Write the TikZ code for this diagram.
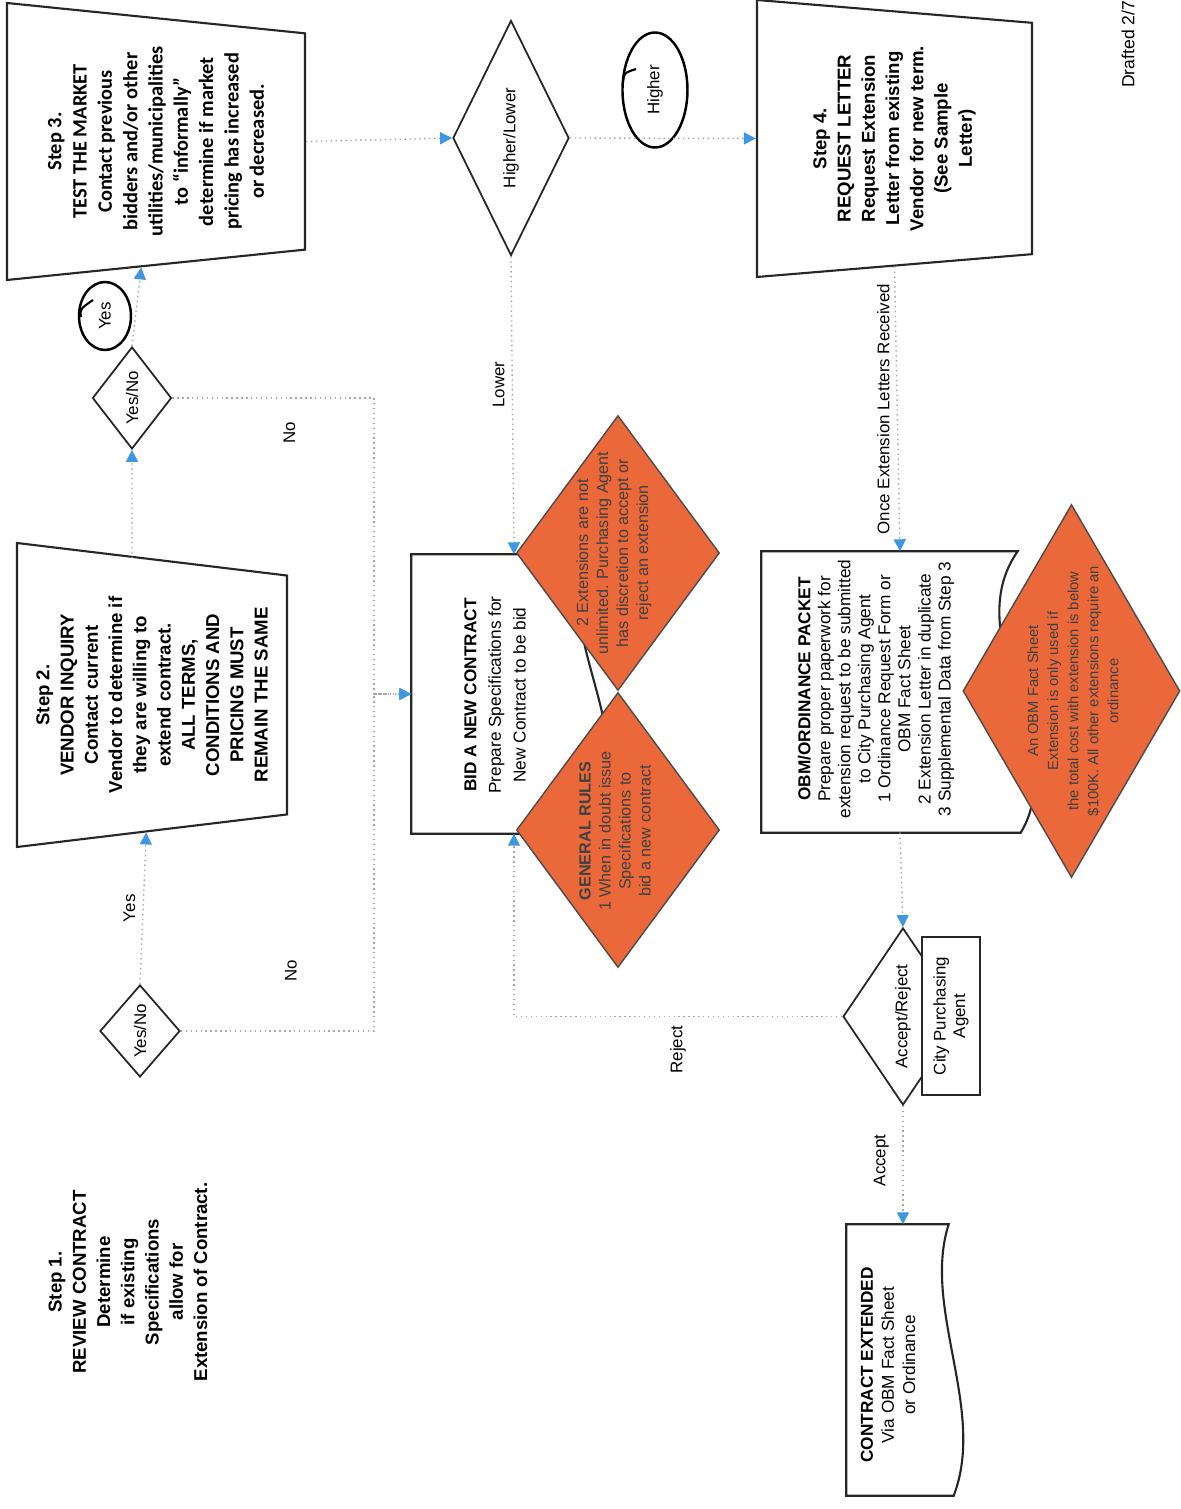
\documentclass[tikz,border=0pt]{standalone}
\usepackage{fontspec}
\setmainfont{Liberation Sans}
\newfontfamily\carlito{Carlito}
\usetikzlibrary{shapes.geometric}
\usetikzlibrary{arrows.meta}
\usetikzlibrary{calc}
\definecolor{arrowblue}{RGB}{64,150,224}
\definecolor{ruleorange}{RGB}{234,104,58}

\begin{document}
\begin{tikzpicture}[rotate=90, transform shape]
\tikzstyle{stepbox} = [trapezium, trapezium angle=82, trapezium stretches body, shape border rotate=180, draw=black!85, line width=0.6pt, fill=white, align=center, inner sep=0pt, font=\fontsize{5.3}{6.9}\selectfont\bfseries]
\tikzstyle{decision} = [diamond, draw=black!85, line width=0.5pt, fill=white, inner sep=0pt, font=\fontsize{4.8}{5.6}\selectfont]
\tikzstyle{doc} = [rectangle, inner sep=0pt]
\tikzstyle{docline} = [draw=black!85, line width=0.6pt, fill=white]
\tikzstyle{doctext} = [align=center, inner sep=0pt, font=\fontsize{4.9}{5.7}\selectfont]
\tikzstyle{note} = [diamond, draw=black!70, line width=0.4pt, fill=ruleorange, inner sep=0pt]
\tikzstyle{notetext} = [align=center, inner sep=0pt, text=black!75, font=\fontsize{4.6}{5.7}\selectfont]
\tikzstyle{tag} = [inner sep=1pt, font=\fontsize{4.8}{5.6}\selectfont]
\tikzstyle{handmark} = [ellipse, draw, line width=0.7pt, inner sep=0pt, font=\fontsize{4.8}{5.6}\selectfont]
\tikzstyle{flow} = [draw=black!35, densely dotted, line width=0.4pt, -{Triangle[length=1.2mm,width=1.2mm,color=arrowblue]}]

\useasboundingbox (0,0) rectangle (15.09,11.81);
\fill[white] (0,0) rectangle (15.09,11.81);

% steps
\node[font=\fontsize{5.3}{6.9}\selectfont\bfseries, align=center] (step1) at (2.27,10.53) {Step 1.\\REVIEW CONTRACT\\Determine\\if existing\\Specifications\\allow for\\Extension of Contract.};
\node[stepbox, minimum width=3.04cm, minimum height=2.7cm] (step2) at (8.14,10.29) {Step 2.\\VENDOR INQUIRY\\Contact current\\Vendor to determine if\\they are willing to\\extend contract.\\ALL TERMS,\\CONDITIONS AND\\PRICING MUST\\REMAIN THE SAME};
\node[stepbox, minimum width=2.77cm, minimum height=2.98cm, font=\carlito\fontsize{5.8}{7.2}\selectfont\bfseries] (step3) at (13.675,10.25) {Step 3.\\TEST THE MARKET\\Contact previous\\bidders and/or other\\utilities/municipalities\\to “informally”\\determine if market\\pricing has increased\\or decreased.};
\node[stepbox, minimum width=2.77cm, minimum height=2.75cm] (step4) at (13.705,2.865) {Step 4.\\REQUEST LETTER\\Request Extension\\Letter from existing\\Vendor for new term.\\(See Sample\\Letter)};

% decisions
\node[decision, minimum width=0.92cm, minimum height=0.8cm] (yesno1) at (4.78,10.41) {Yes/No};
\node[decision, minimum width=1.02cm, minimum height=0.79cm] (yesno2) at (11.11,10.49) {Yes/No};
\node[decision, minimum width=2.35cm, minimum height=0.78cm] (higherlower) at (13.71,6.70) {Higher/Lower};
\node[decision, minimum width=1.77cm, minimum height=0.78cm] (acceptreject) at (4.925,2.78) {Accept/Reject};
\node[draw=black!85, line width=0.5pt, fill=white, minimum width=1.58cm, minimum height=0.58cm, align=center, inner sep=0pt, font=\fontsize{4.8}{5.6}\selectfont] (agent) at (4.93,2.30) {City Purchasing\\Agent};

% documents
\node[doc, minimum width=2.78cm, minimum height=2.04cm] (bid) at (8.15,6.67) {};
\draw[docline] (bid.north west) -- (bid.north east) -- ($(bid.south east)+(0,0.3)$) .. controls ($(bid.south east)+(-0.85,0.65)$) and ($(bid.south west)+(1.05,-0.25)$) .. ($(bid.south west)+(0,0.2)$) -- cycle;
\node[doctext, font=\fontsize{4.9}{7}\selectfont] (bidtext) at (8.14,6.86) {\textbf{BID A NEW CONTRACT}\\Prepare Specifications for\\New Contract to be bid};

\node[doc, minimum width=2.8cm, minimum height=2.76cm] (obm) at (8.17,2.81) {};
\draw[docline] (obm.north west) -- (obm.north east) -- ($(obm.south east)+(0,0.21)$) .. controls ($(obm.south east)+(-0.87,0.82)$) and ($(obm.south west)+(0.83,-0.33)$) .. ($(obm.south west)+(0,0.18)$) -- cycle;
\node[doctext] (obmtext) at (8.2,3.05) {\textbf{OBM/ORDINANCE PACKET}\\Prepare proper paperwork for\\extension request to be submitted\\to City Purchasing Agent\\1 Ordinance Request Form or\\OBM Fact Sheet\\2 Extension Letter in duplicate\\3 Supplemental Data from Step 3};

\node[doc, minimum width=2.7cm, minimum height=1.12cm] (extended) at (1.49,2.78) {};
\draw[docline] (extended.north west) -- (extended.north east) -- ($(extended.south east)+(0,0.11)$) .. controls ($(extended.south east)+(-0.84,0.38)$) and ($(extended.south west)+(0.86,-0.27)$) .. ($(extended.south west)+(0,0.06)$) -- cycle;
\node[doctext, font=\fontsize{4.9}{6}\selectfont] (extendedtext) at (1.44,2.93) {\textbf{CONTRACT EXTENDED}\\Via OBM Fact Sheet\\or Ordinance};

% orange notes
\node[note, minimum width=2.75cm, minimum height=2.03cm] (rules) at (6.79,5.63) {};
\node[note, minimum width=2.75cm, minimum height=2.03cm] (limits) at (9.56,5.63) {};
\node[note, minimum width=3.73cm, minimum height=2.17cm] (factsheet) at (8.18,1.095) {};
\node[notetext] (rulestext) at (6.78,5.66) {\textbf{GENERAL RULES}\\1 When in doubt issue\\Specifications to\\bid a new contract};
\node[notetext] (limitstext) at (9.56,5.67) {2 Extensions are not\\unlimited. Purchasing Agent\\has discretion to accept or\\reject an extension};
\node[notetext, font=\fontsize{4.2}{5.7}\selectfont] (facttext) at (8.18,1.08) {An OBM Fact Sheet\\Extension is only used if\\the total cost with extension is below\\\$100K. All other extensions require an\\ordinance};

% hand marks
\node[handmark, minimum width=0.68cm, minimum height=0.52cm] (yesmark) at (11.93,10.76) {Yes};
\node[handmark, minimum width=1.15cm, minimum height=0.65cm] (highermark) at (14.19,5.26) {Higher};
\draw[line width=0.6pt] (11.92,11.0) .. controls (12.0,11.01) .. (12.09,10.88);
\draw[line width=0.6pt] (14.27,5.58) .. controls (14.36,5.57) .. (14.40,5.45);

\node[tag, anchor=west, font=\fontsize{5}{6}\selectfont] (drafted) at (14.17,0.53) {Drafted 2/7/};

% connectors
\coordinate (nojoin) at (8.15,8.07);
\coordinate (nobend1) at (4.78,8.07);
\coordinate (nobend2) at (11.11,8.07);
\coordinate (rejbend) at (4.925,6.67);
\draw[flow] (yesno1.east) -- node[tag, above=1pt] {Yes} (step2);
\draw[flow] (yesno1.south) -- node[tag, pos=0.57, right=0.45cm] {No} (nobend1) -- (nojoin) -- (bid.north);
\draw[flow] (yesno2.south) -- node[tag, pos=0.58, left=0.2cm] {No} (nobend2) -- (nojoin) -- (bid.north);
\draw[flow] ($(step2.east)+(0,0.2)$) -- (yesno2.west);
\draw[flow] (yesno2.east) -- (step3);
\draw[flow] (step3.south) -- (higherlower.north);
\draw[flow] (higherlower.south) -- (step4.north);
\draw[flow] (higherlower.west) -- node[tag, pos=0.43, above=1pt] {Lower} (bid.east);
\draw[flow] (step4.west) -- node[tag, above=1pt] {Once Extension Letters Received} (obm.east);
\draw[flow] (obm.west) -- (acceptreject.east);
\draw[flow] (acceptreject.west) -- node[tag, pos=0.46, above=1mm] {Accept} (extended.east);
\draw[flow] (acceptreject.north) -- node[tag, left=0.05cm] {Reject} (rejbend) -- (bid.west);
\end{tikzpicture}
\end{document}
